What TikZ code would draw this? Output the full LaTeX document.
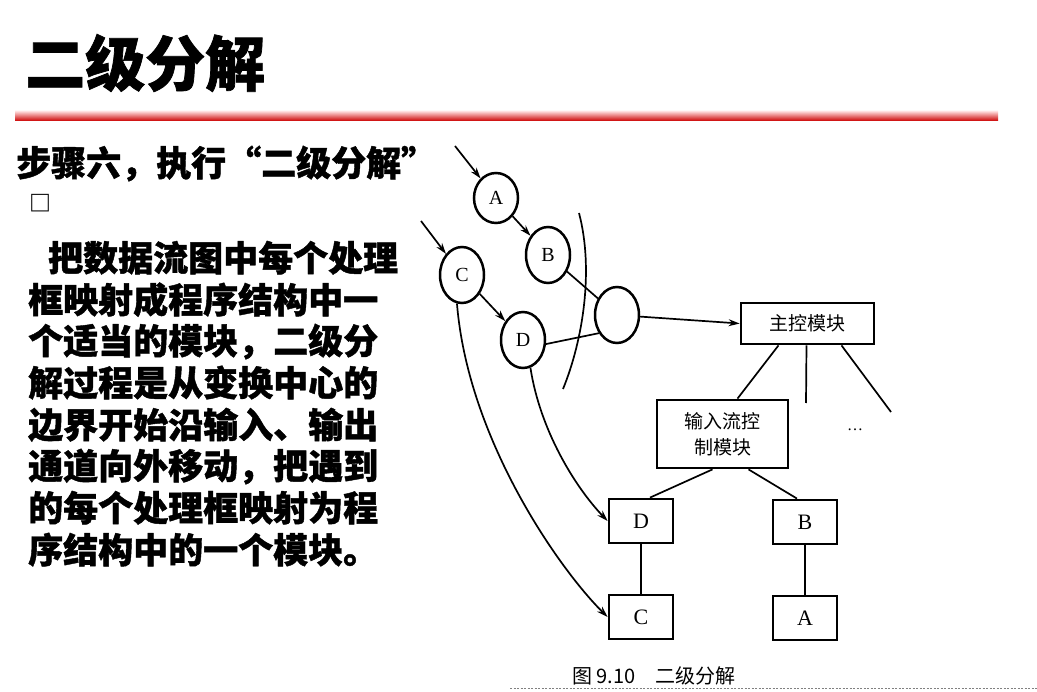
\documentclass[tikz,border=0pt]{standalone}
\usepackage{fontspec}
\usetikzlibrary{shapes.geometric,arrows.meta,calc}
\newfontfamily\cjk{Noto Sans CJK SC}
\newfontfamily\heavy{Noto Sans CJK SC}[BoldFeatures={FakeBold=1.2}]
\newfontfamily\rmlatin{Liberation Serif}

\begin{document}
\begin{tikzpicture}[x=1pt,y=-1pt,
  bubble/.style={ellipse, draw, line width=2.5pt, inner sep=0pt,
    minimum width=44pt, minimum height=56pt,
    font=\rmlatin\fontsize{20}{20}\selectfont},
  module/.style={rectangle, draw, line width=2.8pt, inner sep=0pt,
    font=\cjk\fontsize{19}{26}\selectfont, align=center},
  leaf/.style={module, minimum width=64pt, minimum height=44pt,
    font=\rmlatin\fontsize{22}{22}\selectfont},
  flow/.style={line width=1.7pt, -{Stealth[length=11pt,width=7pt]}},
  link/.style={line width=1.7pt},
  bodyline/.style={anchor=base west, inner sep=0pt,
    font=\heavy\bfseries\fontsize{35}{35}\selectfont}
]
\useasboundingbox (0,0) rectangle (1037,692);

% title and rule
\node[anchor=base west, inner sep=0pt, font=\heavy\bfseries\fontsize{60}{60}\selectfont]
  (title) at (25,86) {二级分解};
\shade[top color=red!12, bottom color=red!80!black] (15,111) rectangle (998,121);

% left column text
\node[bodyline] (step) at (16,176) {步骤六，执行“二级分解”};
\node[anchor=base west, inner sep=0pt, font=\cjk\bfseries\fontsize{22}{22}\selectfont]
  (box) at (29,212) {□};
\node[bodyline] (l1) at (48,271) {把数据流图中每个处理};
\node[bodyline] (l2) at (28,313) {框映射成程序结构中一};
\node[bodyline] (l3) at (28,354) {个适当的模块，二级分};
\node[bodyline] (l4) at (28,396) {解过程是从变换中心的};
\node[bodyline] (l5) at (28,438) {边界开始沿输入、输出};
\node[bodyline] (l6) at (28,479) {通道向外移动，把遇到};
\node[bodyline] (l7) at (28,521) {的每个处理框映射为程};
\node[bodyline] (l8) at (28,563) {序结构中的一个模块。};

% data flow bubbles
\node[bubble, minimum height=50pt] (A) at (496,198) {A};
\node[bubble] (B) at (548,255) {B};
\node[bubble] (C) at (462,275) {C};
\node[bubble] (D) at (523,340) {D};
\node[bubble] (E) at (617,315) {};

\coordinate (inA) at (455,146);
\coordinate (inC) at (421,221);
\draw[flow] (inA) -- (A);
\draw[flow] (inC) -- (C);
\draw[flow] (A) -- (B);
\draw[flow] (C) -- (D);
\draw[link] (B) -- (E);
\draw[link] (D.-10) -- (E.225);

% boundary of the transform centre
\draw[line width=1.7pt] (579,213) .. controls (594,270) and (583,340) .. (563,389);

% program structure
\node[module, minimum width=133pt, minimum height=41pt] (main) at (807.5,323.5) {主控模块};
\node[module, minimum width=131pt, minimum height=68pt] (inp) at (722.5,434) {输入流控\\制模块};
\node[leaf] (Db) at (641,521) {D};
\node[leaf] (Bb) at (805,522) {B};
\node[leaf] (Cb) at (641,617) {C};
\node[leaf] (Ab) at (805,618) {A};

\draw[flow] (E) -- (main.west);
\draw[link] ([xshift=-29pt]main.south) -- ([xshift=15pt]inp.north);
\coordinate (mid) at (806,403);
\coordinate (right) at (891,412);
\draw[link] ([xshift=-1pt]main.south) -- (mid);
\draw[link] ([xshift=34pt]main.south) -- (right);
\node[font=\rmlatin\fontsize{16}{16}\selectfont] (dots) at (855,430) {…};

\draw[link] ([xshift=-10pt]inp.south) -- ([xshift=9pt]Db.north);
\draw[link] ([xshift=26pt]inp.south) -- ([xshift=-8pt]Bb.north);
\draw[link] (Db) -- (Cb);
\draw[link] (Bb) -- (Ab);

% mapping of bubbles onto modules
\draw[flow] (D.-75) .. controls (540,430) and (575,487) .. (Db.west);
\draw[flow] (C.-100) .. controls (468,440) and (560,570) .. (Cb.west);

% caption
\node[anchor=west, inner sep=0pt, font=\cjk\fontsize{20}{20}\selectfont]
  (cap) at (572,676) {图 9.10\quad 二级分解};
\draw[gray, line width=0.6pt, dash pattern=on 2pt off 1.5pt] (510,688) -- (1037,688);
\end{tikzpicture}
\end{document}
